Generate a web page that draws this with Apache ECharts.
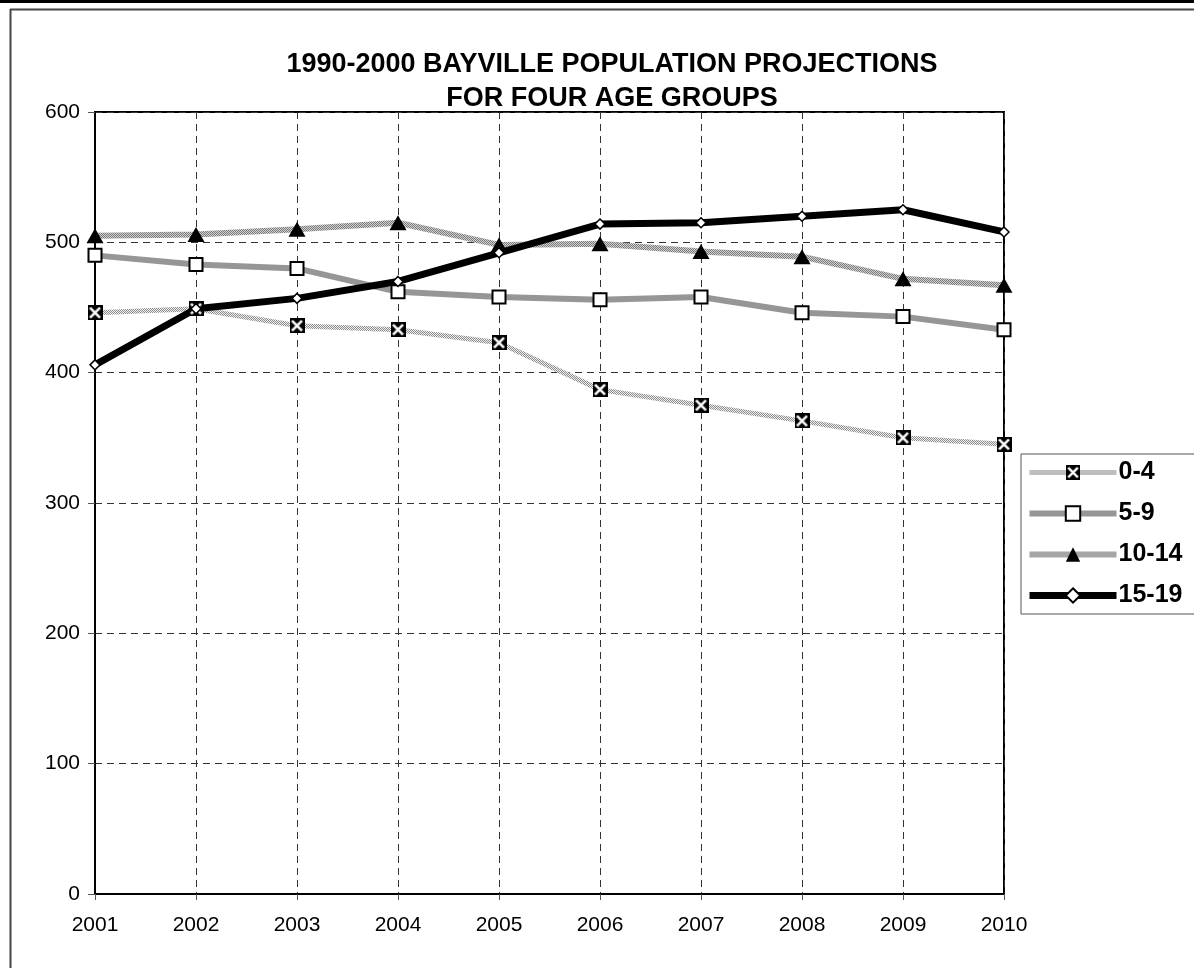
<!DOCTYPE html>
<html>
<head>
<meta charset="utf-8">
<title>Bayville Population Projections</title>
<script src="https://cdn.jsdelivr.net/npm/echarts@6/dist/echarts.min.js"></script>
<style>
  html, body { margin: 0; padding: 0; background: #ffffff; }
  #chart { width: 1194px; height: 968px; }
</style>
</head>
<body>
<div id="chart"></div>
<script>
// Projection years and population counts per age group
const years = ['2001', '2002', '2003', '2004', '2005', '2006', '2007', '2008', '2009', '2010'];
const age0to4 = [446, 449, 436, 433, 423, 387, 375, 363, 350, 345];
const age5to9 = [490, 483, 480, 462, 458, 456, 458, 446, 443, 433];
const age10to14 = [505, 506, 510, 515, 498, 499, 493, 489, 472, 467];
const age15to19 = [406, 449, 457, 470, 492, 514, 515, 520, 525, 508];
const groupNames = ['0-4', '5-9', '10-14', '15-19'];

const FONT = '"Liberation Sans", Arial, sans-serif';

// Stippled fill used for the dotted grey lines
function stipple(dark, light) {
  const c = document.createElement('canvas');
  c.width = 2; c.height = 2;
  const g = c.getContext('2d');
  g.fillStyle = light; g.fillRect(0, 0, 2, 2);
  g.fillStyle = dark; g.fillRect(0, 0, 1, 1); g.fillRect(1, 1, 1, 1);
  return { image: c, repeat: 'repeat' };
}

// Boxed-X marker: black square with a white cross
function boxX() {
  const s = 30;
  const c = document.createElement('canvas');
  c.width = s; c.height = s;
  const g = c.getContext('2d');
  g.fillStyle = '#000'; g.fillRect(0, 0, s, s);
  g.strokeStyle = '#fff'; g.lineWidth = 5; g.lineCap = 'butt';
  g.beginPath();
  g.moveTo(5, 5); g.lineTo(s - 5, s - 5);
  g.moveTo(s - 5, 5); g.lineTo(5, s - 5);
  g.stroke();
  return 'image://' + c.toDataURL();
}

const chart = echarts.init(document.getElementById('chart'), null, { renderer: 'canvas' });

const option = {
  backgroundColor: '#ffffff',
  animation: false,
  textStyle: { fontFamily: FONT },
  title: {
    text: '1990-2000 BAYVILLE POPULATION PROJECTIONS\nFOR FOUR AGE GROUPS',
    left: 607,
    top: 43,
    textAlign: 'center',
    textStyle: { fontFamily: FONT, fontSize: 27, fontWeight: 'bold', color: '#000', lineHeight: 34 }
  },
  legend: {
    orient: 'vertical',
    left: 1021,
    top: 454,
    padding: [6, 14, 6, 5],
    itemWidth: 87,
    itemHeight: 18,
    itemGap: 16,
    borderColor: '#555',
    borderWidth: 1,
    backgroundColor: '#fff',
    data: groupNames,
    lineStyle: { width: 'inherit' },
    textStyle: { fontFamily: FONT, fontSize: 25, fontWeight: 'bold', color: '#000', lineHeight: 24, padding: [0, 0, 0, -3] }
  },
  grid: {
    left: 95,
    right: 190,
    top: 112,
    bottom: 74,
    show: true,
    borderColor: '#000',
    borderWidth: 2,
    backgroundColor: 'transparent'
  },
  xAxis: {
    type: 'category',
    data: years,
    boundaryGap: false,
    axisLine: { lineStyle: { color: '#000', width: 2 } },
    axisTick: { show: true, alignWithLabel: true, length: 6, lineStyle: { color: '#555', width: 1 } },
    axisLabel: { fontFamily: FONT, fontSize: 21, color: '#000', margin: 21 },
    splitLine: { show: true, lineStyle: { color: '#333', width: 1, type: [7, 5] } }
  },
  yAxis: {
    type: 'value',
    min: 0,
    max: 600,
    interval: 100,
    axisLine: { show: true, lineStyle: { color: '#000', width: 2 } },
    axisTick: { show: true, length: 7, lineStyle: { color: '#555', width: 1 } },
    axisLabel: { fontFamily: FONT, fontSize: 21, color: '#000', margin: 15 },
    splitLine: { show: true, lineStyle: { color: '#333', width: 1, type: [7, 5] } }
  },
  series: [
    {
      name: '0-4', type: 'line', data: age0to4,
      symbol: boxX(), symbolSize: 15,
      lineStyle: { width: 5, color: stipple('#8c8c8c', '#f0f0f0') },
      itemStyle: { color: '#000' }
    },
    {
      name: '5-9', type: 'line', data: age5to9,
      symbol: 'rect', symbolSize: 13,
      lineStyle: { width: 6, color: '#969696' },
      itemStyle: { color: '#fff', borderColor: '#000', borderWidth: 2 }
    },
    {
      name: '10-14', type: 'line', data: age10to14,
      symbol: 'triangle', symbolSize: [17, 15],
      lineStyle: { width: 6, color: stipple('#7a7a7a', '#d2d2d2') },
      itemStyle: { color: '#000' }
    },
    {
      name: '15-19', type: 'line', data: age15to19,
      symbol: 'diamond', symbolSize: 10,
      lineStyle: { width: 7, color: '#000' },
      itemStyle: { color: '#fff', borderColor: '#000', borderWidth: 1.5 }
    }
  ],
  graphic: [
    // page rule at the very top and the chart-area frame
    { type: 'rect', shape: { x: 0, y: 0, width: 1194, height: 3 }, style: { fill: '#000' }, silent: true },
    { type: 'line', shape: { x1: 10, y1: 9.5, x2: 1194, y2: 9.5 }, style: { stroke: '#444', lineWidth: 2 }, silent: true },
    { type: 'line', shape: { x1: 10.5, y1: 9, x2: 10.5, y2: 968 }, style: { stroke: '#444', lineWidth: 2 }, silent: true }
  ]
};

chart.setOption(option);
</script>
</body>
</html>
